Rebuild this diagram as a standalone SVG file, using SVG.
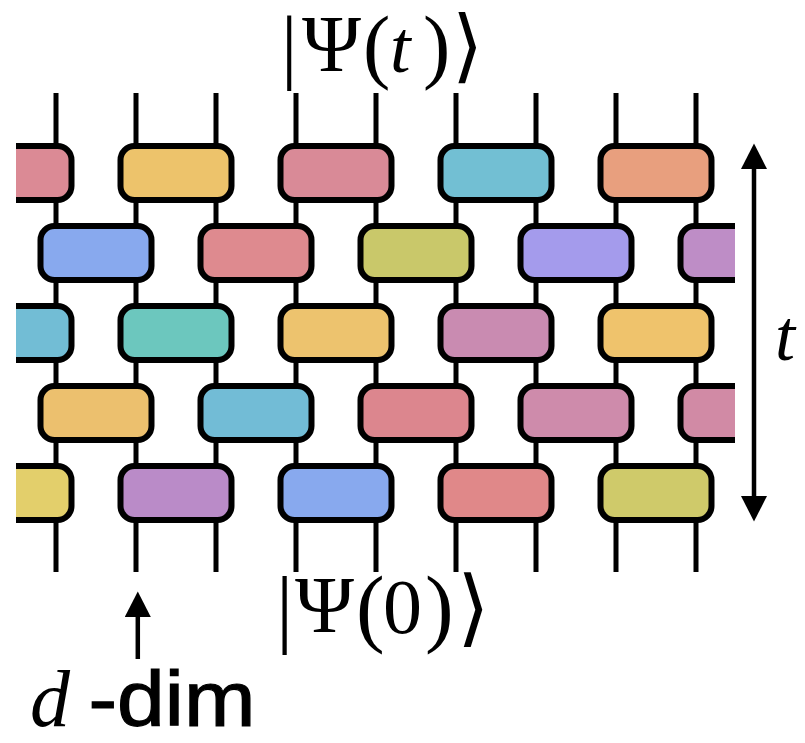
<svg xmlns="http://www.w3.org/2000/svg" width="805" height="743" viewBox="0 0 805 743">
<style>
.w{stroke:#000;stroke-width:5;fill:none}
.g{stroke:#000;stroke-width:6}
.ar{stroke:#000;stroke-width:4.5;fill:none}
.serif{font-family:"Liberation Serif","DejaVu Serif",serif;fill:#000}
.it{font-style:italic}
.ang{font-family:"DejaVu Serif","DejaVu Sans",serif}
.sans{font-family:"Liberation Sans",Arial,sans-serif;fill:#000}
</style>
<defs>
<clipPath id="clip"><rect x="16" y="0" width="719" height="743"/></clipPath>
<marker id="head" markerUnits="userSpaceOnUse" markerWidth="26" markerHeight="26" refX="0" refY="12.75" orient="auto-start-reverse" viewBox="0 0 25 25.5">
<path d="M0,0 L25,12.75 L0,25.5 Z" fill="#000"/>
</marker>
<rect id="gate" width="111" height="54" rx="14" ry="14"/>
</defs>
<rect width="805" height="743" fill="#fff"/>

<g id="wires">
<line class="w" x1="56" y1="93" x2="56" y2="572"/>
<line class="w" x1="136" y1="93" x2="136" y2="572"/>
<line class="w" x1="216" y1="93" x2="216" y2="572"/>
<line class="w" x1="296" y1="93" x2="296" y2="572"/>
<line class="w" x1="376" y1="93" x2="376" y2="572"/>
<line class="w" x1="456" y1="93" x2="456" y2="572"/>
<line class="w" x1="536" y1="93" x2="536" y2="572"/>
<line class="w" x1="616" y1="93" x2="616" y2="572"/>
<line class="w" x1="696" y1="93" x2="696" y2="572"/>
</g>

<g id="gates" clip-path="url(#clip)">
<g id="g-0-0"><use href="#gate" class="g" x="-39.5" y="146" fill="#DB8A95"/></g>
<g id="g-0-1"><use href="#gate" class="g" x="120.5" y="146" fill="#EDC36B"/></g>
<g id="g-0-2"><use href="#gate" class="g" x="280.5" y="146" fill="#D98A97"/></g>
<g id="g-0-3"><use href="#gate" class="g" x="440.5" y="146" fill="#72BFD3"/></g>
<g id="g-0-4"><use href="#gate" class="g" x="600.5" y="146" fill="#E89F7E"/></g>

<g id="g-1-0"><use href="#gate" class="g" x="40.5" y="226" fill="#88A9EE"/></g>
<g id="g-1-1"><use href="#gate" class="g" x="200.5" y="226" fill="#DE8A8F"/></g>
<g id="g-1-2"><use href="#gate" class="g" x="360.5" y="226" fill="#C9C86A"/></g>
<g id="g-1-3"><use href="#gate" class="g" x="520.5" y="226" fill="#A49BEC"/></g>
<g id="g-1-4"><use href="#gate" class="g" x="680.5" y="226" fill="#BE8DC6"/></g>

<g id="g-2-0"><use href="#gate" class="g" x="-39.5" y="306" fill="#72BDD5"/></g>
<g id="g-2-1"><use href="#gate" class="g" x="120.5" y="306" fill="#6CC7BE"/></g>
<g id="g-2-2"><use href="#gate" class="g" x="280.5" y="306" fill="#EDC36E"/></g>
<g id="g-2-3"><use href="#gate" class="g" x="440.5" y="306" fill="#C98BB1"/></g>
<g id="g-2-4"><use href="#gate" class="g" x="600.5" y="306" fill="#EFC36C"/></g>

<g id="g-3-0"><use href="#gate" class="g" x="40.5" y="386" fill="#ECC06E"/></g>
<g id="g-3-1"><use href="#gate" class="g" x="200.5" y="386" fill="#72BCD6"/></g>
<g id="g-3-2"><use href="#gate" class="g" x="360.5" y="386" fill="#DC868E"/></g>
<g id="g-3-3"><use href="#gate" class="g" x="520.5" y="386" fill="#CE8BAB"/></g>
<g id="g-3-4"><use href="#gate" class="g" x="680.5" y="386" fill="#D18AA5"/></g>

<g id="g-4-0"><use href="#gate" class="g" x="-39.5" y="466" fill="#E3CF6B"/></g>
<g id="g-4-1"><use href="#gate" class="g" x="120.5" y="466" fill="#BA8BC8"/></g>
<g id="g-4-2"><use href="#gate" class="g" x="280.5" y="466" fill="#88A9EE"/></g>
<g id="g-4-3"><use href="#gate" class="g" x="440.5" y="466" fill="#E08889"/></g>
<g id="g-4-4"><use href="#gate" class="g" x="600.5" y="466" fill="#CFCA6A"/></g>
</g>

<g id="arrows">
<line class="ar" x1="754" y1="169" x2="754" y2="496" marker-start="url(#head)" marker-end="url(#head)"/>
<line class="ar" x1="137.8" y1="659" x2="137.8" y2="617" marker-end="url(#head)"/>
</g>

<g id="label-top">
<text class="serif" y="73"><tspan x="281" font-size="82">|</tspan><tspan x="302" y="71" font-size="80">Ψ</tspan><tspan x="363" y="73" font-size="82">(</tspan><tspan x="390" y="72" font-size="74" class="it">t</tspan><tspan x="423" y="73" font-size="82">)</tspan><tspan x="452" y="73" font-size="80" class="ang">⟩</tspan></text>
</g>
<g id="label-bottom">
<text class="serif" y="636"><tspan x="276" font-size="86">|</tspan><tspan x="295" y="632" font-size="80">Ψ</tspan><tspan x="356" y="636" font-size="86">(</tspan><tspan x="383" y="633" font-size="78">0</tspan><tspan x="425" y="636" font-size="86">)</tspan><tspan x="457" y="636" font-size="84" class="ang">⟩</tspan></text>
</g>
<g id="label-t">
<text class="serif it" x="775" y="360" font-size="72">t</text>
</g>
<g id="label-ddim">
<text class="serif it" x="30" y="726" font-size="80">d</text>
<text class="sans" x="88.5" y="726" font-size="78" textLength="167" lengthAdjust="spacingAndGlyphs" stroke="#000" stroke-width="1.2">-dim</text>
</g>
</svg>
